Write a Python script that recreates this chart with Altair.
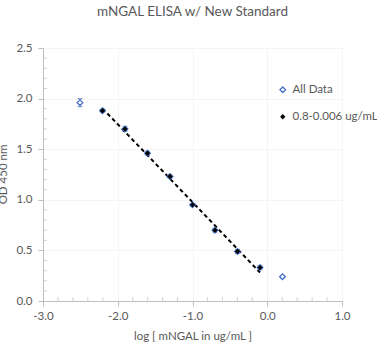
import altair as alt
import pandas as pd

# ---- data ----
x_all = [-2.505, -2.204, -1.903, -1.602, -1.301, -1.0, -0.699, -0.398, -0.097, 0.204]
y_all = [1.96, 1.88, 1.70, 1.46, 1.23, 0.95, 0.70, 0.49, 0.33, 0.24]
err_all = [0.04, 0.015, 0.025, 0.02, 0.015, 0.012, 0.02, 0.02, 0.02, 0.012]

x_sub = [-2.204, -1.903, -1.602, -1.301, -1.0, -0.699, -0.398, -0.097]
y_sub = [1.88, 1.70, 1.46, 1.23, 0.95, 0.70, 0.49, 0.33]

series_names = ["All Data", "0.8-0.006 ug/mL"]

x_major = [-3.0, -2.0, -1.0, 0.0, 1.0]
x_minor = [-2.8, -2.6, -2.4, -2.2, -1.8, -1.6, -1.4, -1.2,
           -0.8, -0.6, -0.4, -0.2, 0.2, 0.4, 0.6, 0.8]
y_major = [0.0, 0.5, 1.0, 1.5, 2.0, 2.5]
y_minor = [0.1, 0.2, 0.3, 0.4, 0.6, 0.7, 0.8, 0.9, 1.1, 1.2, 1.3, 1.4,
           1.6, 1.7, 1.8, 1.9, 2.1, 2.2, 2.3, 2.4]

title = "mNGAL ELISA w/ New Standard"
x_title = "log [ mNGAL in ug/mL ]"
y_title = "OD 450 nm"

FONT = "Lato"
GRAY = "#595959"
BLUE = "#4472C4"
AXIS_GRAY = "#bfbfbf"

df_all = pd.DataFrame({"x": x_all, "y": y_all, "err": err_all, "series": series_names[0]})
df_sub = pd.DataFrame({"x": x_sub, "y": y_sub, "series": series_names[1]})
df_pts = pd.concat([df_all[["x", "y", "series"]], df_sub], ignore_index=True)
df_xminor = pd.DataFrame({"v": x_minor})
df_yminor = pd.DataFrame({"v": y_minor})

xscale = alt.Scale(domain=[-3, 1], nice=False, zero=False)
yscale = alt.Scale(domain=[0, 2.5], nice=False, zero=False)

x_axis = alt.Axis(
    values=x_major,
    title=x_title,
    labelExpr="datum.value < -0.001 ? '-' + format(abs(datum.value), '.1f') : format(abs(datum.value), '.1f')",
    tickSize=5, labelOverlap=False,
    labelColor=GRAY, labelFont=FONT, labelFontSize=11.5, labelPadding=4,
    titleColor=GRAY, titleFont=FONT, titleFontSize=11.5, titleFontWeight="normal", titlePadding=9,
    domainColor=AXIS_GRAY, tickColor=AXIS_GRAY, gridColor="#f4f4f4", grid=True,
    labelFlush=False,
)
y_axis = alt.Axis(
    values=y_major,
    title=y_title,
    format=".1f",
    tickSize=5, labelOverlap=False,
    labelColor=GRAY, labelFont=FONT, labelFontSize=11.5, labelPadding=6,
    titleColor=GRAY, titleFont=FONT, titleFontSize=11.5, titleFontWeight="normal",
    titleX=-37, titleY=126, titleAngle=270, titleAlign="center", titleBaseline="alphabetic",
    domainColor=AXIS_GRAY, tickColor=AXIS_GRAY, gridColor="#f4f4f4", grid=True,
    labelFlush=False,
)

errbars = alt.Chart(df_all).mark_errorbar(ticks=alt.TickConfig(size=5), color=BLUE, thickness=1).encode(
    x=alt.X("x:Q", scale=xscale, axis=x_axis),
    y=alt.Y("y:Q", scale=yscale, axis=y_axis),
    yError="err:Q",
)

# minor ticks, drawn inside the plot area along the axes
xminor = alt.Chart(df_xminor).mark_tick(orient="vertical", size=4, thickness=1, color=AXIS_GRAY).encode(
    x=alt.X("v:Q", scale=xscale),
    y=alt.datum(0, scale=yscale),
    yOffset=alt.value(-2),
)
yminor = alt.Chart(df_yminor).mark_tick(orient="horizontal", size=4, thickness=1, color=AXIS_GRAY).encode(
    y=alt.Y("v:Q", scale=yscale),
    x=alt.datum(-3, scale=xscale),
    xOffset=alt.value(2),
)

trend = alt.Chart(df_sub).transform_regression("x", "y").mark_line(
    color="black", strokeDash=[4, 3], strokeWidth=2
).encode(
    x=alt.X("x:Q", scale=xscale),
    y=alt.Y("y:Q", scale=yscale),
)

leg = alt.Legend(orient="none", legendX=234, legendY=36, title=None,
                 labelFont=FONT, labelFontSize=11.5, labelColor=GRAY, labelOffset=4,
                 rowPadding=14, symbolStrokeWidth=1.3)

pts = alt.Chart(df_pts).mark_point(shape="diamond", filled=False, strokeWidth=1.3, opacity=1).encode(
    x=alt.X("x:Q", scale=xscale),
    y=alt.Y("y:Q", scale=yscale),
    stroke=alt.Stroke("series:N", scale=alt.Scale(domain=series_names, range=[BLUE, "black"]), legend=leg),
    fill=alt.Fill("series:N", scale=alt.Scale(domain=series_names, range=["white", "black"]), legend=leg),
    size=alt.Size("series:N", scale=alt.Scale(domain=series_names, range=[32, 12]), legend=leg),
)

chart = alt.layer(errbars, xminor, yminor, trend, pts).properties(
    width=299, height=253,
    title=alt.TitleParams(title, font=FONT, fontSize=13.5, fontWeight="normal", color=GRAY, offset=24, anchor="middle"),
    autosize=alt.AutoSizeParams(type="none"),
    padding={"left": 43, "top": 48, "right": 35, "bottom": 47},
).configure_view(stroke=None).configure(background="white")

chart.save("out.html", embed_options={"renderer": "svg", "actions": False})
